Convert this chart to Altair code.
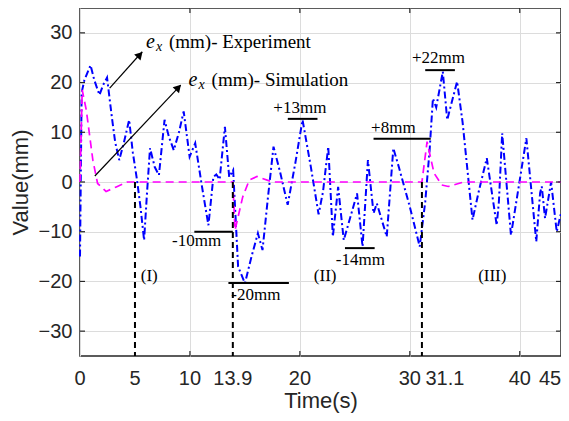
import altair as alt
import pandas as pd

# Experiment (blue dash-dot)
exp_t = [0, 0.15, 0.4, 0.96, 1.3, 1.77, 2.1, 2.46, 2.9, 3.2, 3.57, 4.0, 4.47, 4.8, 5.16, 5.5, 5.83, 6.1,
         6.37, 6.8, 7.18, 7.69, 8.1, 8.53, 9.0, 9.43, 9.97, 10.48, 11.1, 11.68, 12.13, 12.4, 12.7, 13.18,
         13.57, 13.93, 14.38, 15.0, 15.6, 16.18, 16.6, 17.1, 17.6, 18.2, 18.89, 19.6, 20.24, 21.0, 21.7,
         22.1, 22.58, 23.0, 23.48, 23.99, 24.6, 25.2, 25.7, 26.19, 26.7, 27.0, 27.9, 28.5, 29.0, 30.0,
         30.9, 31.4, 31.8, 32.1, 32.4, 33.0, 33.4, 34.3, 34.8, 35.7, 36.3, 37.0, 37.9, 38.1, 38.4, 39.2,
         39.9, 40.6, 41.5, 41.85, 42.0, 42.3, 42.85, 43.36, 43.75]
exp_v = [-15, 18, 20.5, 23.5, 20.5, 17.5, 19.5, 21, 13, 8, 4.4, 8, 12.5, 6, 0.8, -5, -11.7, -2,
         6.8, 3, 1.4, 12.5, 9, 6.4, 10, 14.2, 5.1, 7.8, -1, -8.7, 1, 1.5, 0.5, 11.1,
         1, 2.4, -17, -20.4, -15, -10.3, -13.7, -3, 7.1, 2, -4.6, 4, 12.5, 3, -6.5,
         -2, 7.1, -11, -1, -11.7, -7, -2.3, -13, 4.4, -6.3, -4.3, -11, 6.8, 3, -5,
         -13, -4, 6.4, 16.8, 15, 22.2, 12.5, 20.2, 12, -7.6, -1.6, 4.8, -8.7, -4, 9.8, -10.7,
         -1, 8.8, -12, -2.2, -0.9, -7.3, 0, -10, -6.3]

# Simulation (magenta dashed)
sim_t = [0, 0.2, 0.57, 1.17, 1.6, 2.37, 3.3, 4.3, 13.9, 14.1, 14.8, 15.4, 16.1, 17.5, 31.1, 31.57,
         32.2, 32.9, 33.5, 34.9, 43.75]
sim_v = [0, 18.5, 14.5, 4.4, -0.3, -1.9, -1.0, 0, 0, -9.7, -3, 0.4, 1.1, 0, 0, 8.1,
         1.8, -0.6, -0.9, 0, 0]

# vertical dashed markers
vline_t = [5, 13.9, 31.1]

# horizontal bar markers
bar_t1 = [10.4, 13.5, 18.9, 24.1, 26.7, 31.4]
bar_t2 = [13.9, 19.0, 21.6, 26.8, 31.9, 34.1]
bar_v = [-10, -20.3, 12.7, -13.3, 8.7, 22.5]
bar_text = ["-10mm", "-20mm", "+13mm", "-14mm", "+8mm", "+22mm"]
bar_text_t = [10.6, 16.0, 20.0, 25.5, 28.5, 32.6]
bar_text_v = [-11.9, -22.7, 14.9, -15.7, 10.9, 24.9]

# region labels
region_text = ["(I)", "(II)", "(III)"]
region_t = [6.3, 22.3, 37.5]
region_v = [-19, -19, -19]

# legend-like annotations
ann_main = ["(mm)- Experiment", "(mm)- Simulation"]
ann_t = [6.0, 9.88]
ann_v = [28.2, 20.5]

# arrows
arr_t1 = [2.7, 1.35]
arr_v1 = [18.9, 1.2]
arr_t2 = [5.66, 9.16]
arr_v2 = [26.2, 19.5]
head_t = [5.45, 8.95]
head_v = [25.6, 19.0]

# ticks
y_ticks = [-30, -20, -10, 0, 10, 20, 30]
x_grid = [0, 10, 20, 30, 40]
x_lab_vals = [0, 5, 10, 13.9, 20, 30, 40]
x_lab_text = ["0", "5", "10", "13.9", "20", "30", "40"]

W, H = 481, 348
XMAX = 43.75
SANS = "Liberation Sans"
SERIF = "Liberation Serif"
AX = "#262626"

xs = alt.Scale(domain=[0, XMAX], nice=False, zero=False)
ys = alt.Scale(domain=[-35, 35], nice=False, zero=False)

XAXIS = alt.Axis(values=x_grid, labels=False, ticks=False, domain=False, grid=True,
                 gridColor="#dcdcdc", title="Time(s)", titleFont=SANS, titleFontSize=22,
                 titleFontWeight="normal", titleColor=AX, titlePadding=34)
YAXIS = alt.Axis(values=y_ticks, ticks=False, domain=False, grid=True, gridColor="#dcdcdc",
                 labelFont=SANS, labelFontSize=20, labelColor=AX, labelPadding=8,
                 title="Value(mm)", titleFont=SANS, titleFontSize=22,
                 titleFontWeight="normal", titleColor=AX, titlePadding=6)


def X(field="t"):
    return alt.X(f"{field}:Q", scale=xs, axis=XAXIS)


def Y(field="v"):
    return alt.Y(f"{field}:Q", scale=ys, axis=YAXIS)


exp_df = pd.DataFrame({"t": exp_t, "v": exp_v})
sim_df = pd.DataFrame({"t": sim_t, "v": sim_v})

base = alt.Chart(exp_df).mark_line(color="blue", strokeWidth=2, strokeDash=[7, 3, 2, 3]).encode(
    x=X(), y=Y())

sim = alt.Chart(sim_df).mark_line(color="#ff00ff", strokeWidth=1.7, strokeDash=[8, 5]).encode(
    x=X(), y=Y())

vl_df = pd.DataFrame({"t": vline_t, "v": [0] * len(vline_t), "v2": [-35] * len(vline_t)})
vlines = alt.Chart(vl_df).mark_rule(color="black", strokeWidth=2, strokeDash=[6, 4]).encode(
    x=X(), y=Y(), y2="v2:Q")

bar_df = pd.DataFrame({"t": bar_t1, "t2": bar_t2, "v": bar_v})
bars = alt.Chart(bar_df).mark_rule(color="black", strokeWidth=2).encode(x=X(), x2="t2:Q", y=Y())

bt_df = pd.DataFrame({"t": bar_text_t, "v": bar_text_v, "s": bar_text})
bar_labels = alt.Chart(bt_df).mark_text(font=SERIF, fontSize=17, color="black", baseline="middle").encode(
    x=X(), y=Y(), text="s:N")

rg_df = pd.DataFrame({"t": region_t, "v": region_v, "s": region_text})
regions = alt.Chart(rg_df).mark_text(font=SERIF, fontSize=17, color="black", baseline="middle").encode(
    x=X(), y=Y(), text="s:N")

an_df = pd.DataFrame({"t": ann_t, "v": ann_v, "s": ann_main, "e": ["e", "e"], "x": ["x", "x"]})
ann_e = alt.Chart(an_df).mark_text(font=SERIF, fontSize=20, fontStyle="italic", color="black",
                                   align="left", baseline="middle").encode(x=X(), y=Y(), text="e:N")
ann_x = alt.Chart(an_df).mark_text(font=SERIF, fontSize=14, fontStyle="italic", color="black",
                                   align="left", baseline="middle", dx=10, dy=5).encode(x=X(), y=Y(), text="x:N")
ann_s = alt.Chart(an_df).mark_text(font=SERIF, fontSize=19, color="black",
                                   align="left", baseline="middle", dx=23).encode(x=X(), y=Y(), text="s:N")

ar_df = pd.DataFrame({"t": arr_t1, "v": arr_v1, "t2": arr_t2, "v2": arr_v2})
arrows = alt.Chart(ar_df).mark_rule(color="black", strokeWidth=1.2).encode(
    x=X(), y=Y(), x2="t2:Q", y2="v2:Q")
hd_df = pd.DataFrame({"t": head_t, "v": head_v})
heads = alt.Chart(hd_df).mark_point(shape="triangle-up", filled=True, color="black", opacity=1,
                                    size=75, angle=43).encode(x=X(), y=Y())

# inward ticks
yt_df = pd.DataFrame({"v": y_ticks})
ytl = alt.Chart(yt_df).mark_rule(color=AX, strokeWidth=1.2).encode(
    y=Y(), x=alt.value(0), x2=alt.value(5))
ytr = alt.Chart(yt_df).mark_rule(color=AX, strokeWidth=1.2).encode(
    y=Y(), x=alt.value(W - 5), x2=alt.value(W))
xt_df = pd.DataFrame({"t": x_grid[1:]})
xtb = alt.Chart(xt_df).mark_rule(color=AX, strokeWidth=1.2).encode(
    x=X(), y=alt.value(H - 5), y2=alt.value(H))
xtt = alt.Chart(xt_df).mark_rule(color=AX, strokeWidth=1.2).encode(
    x=X(), y=alt.value(0), y2=alt.value(5))

# x tick labels as text
xl_df = pd.DataFrame({"t": x_lab_vals, "s": x_lab_text})
xlabels = alt.Chart(xl_df).mark_text(font=SANS, fontSize=20, color=AX, baseline="top").encode(
    x=X(), y=alt.value(H + 13), text="s:N")
xl2 = alt.Chart(pd.DataFrame({"t": [31.1], "s": ["31.1"]})).mark_text(
    font=SANS, fontSize=20, color=AX, baseline="top", dx=23).encode(x=X(), y=alt.value(H + 13), text="s:N")
xl3 = alt.Chart(pd.DataFrame({"t": [XMAX], "s": ["45"]})).mark_text(
    font=SANS, fontSize=20, color=AX, baseline="top", dx=-11).encode(x=X(), y=alt.value(H + 13), text="s:N")

chart = alt.layer(
    base, sim, vlines, bars, bar_labels, regions, ann_e, ann_x, ann_s, arrows, heads,
    ytl, ytr, xtb, xtt, xlabels, xl2, xl3
).properties(
    width=W, height=H,
    autosize=alt.AutoSizeParams(type="none"),
    padding={"left": 72, "top": 0, "right": 0, "bottom": 57}
).configure_view(stroke=AX, strokeWidth=1.5)

chart.save("out.html", embed_options={"renderer": "svg", "actions": False})
